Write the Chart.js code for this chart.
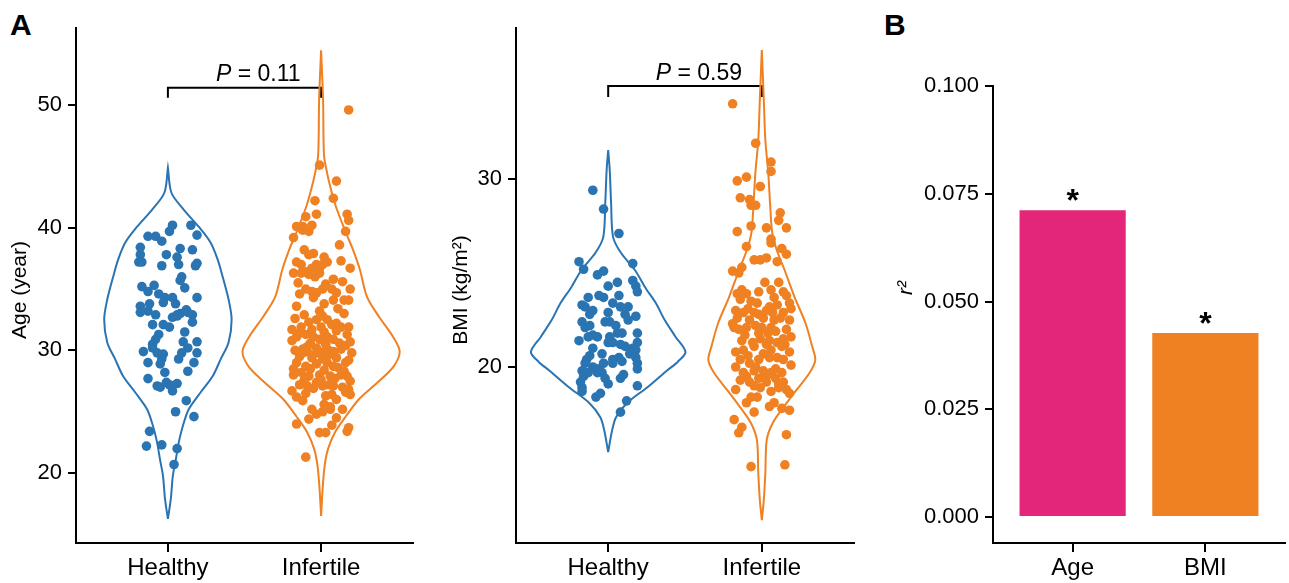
<!DOCTYPE html>
<html>
<head>
<meta charset="utf-8">
<script src="https://cdn.jsdelivr.net/npm/chart.js@4.4.1/dist/chart.umd.min.js"></script>
<style>
  body { margin: 0; width: 1289px; height: 583px; overflow: hidden; position: relative; background: #fff; font-family: "Liberation Sans", Arial, sans-serif; }
  .panel { position: absolute; top: 0; }
  .tag { position: absolute; font-size: 30px; font-weight: bold; line-height: 30px; color: #000; }
</style>
</head>
<body>
<div class="tag" style="left:10px; top:10px">A</div>
<div class="tag" style="left:884px; top:10px">B</div>
<canvas id="ageChart" class="panel" style="left:0" width="440" height="583"></canvas>
<canvas id="bmiChart" class="panel" style="left:440px" width="440" height="583"></canvas>
<canvas id="r2Chart" class="panel" style="left:880px" width="409" height="583"></canvas>
<script>
const groups = ['Healthy', 'Infertile']
const ageTicks = [20, 30, 40, 50]
const bmiTicks = [20, 30]
const r2Ticks = [0, 0.025, 0.05, 0.075, 0.1]
const r2Labels = ['Age', 'BMI']
const r2Values = [0.0712, 0.0427]
const ageP = '0.11'
const bmiP = '0.59'
const ageBracketY = [50.6, 51.4]
const bmiBracketY = [34.36, 34.95]

// jittered points: value + horizontal jitter (category units)
const ageHealthy = [40.2,39.7,40.2,39.4,39.3,39.3,38.9,38.4,37.8,37.2,37.2,37.8,38.3,37.6,38.2,36.9,37.1,36.9,37.0,36.0,
  35.7,35.2,35.3,34.8,35.1,34.6,34.3,34.3,33.9,33.8,34.3,33.6,33.8,33.2,33.1,32.9,33.3,32.9,32.8,33.0,
  33.1,32.1,32.1,31.9,32.7,32.9,32.3,31.5,31.3,30.9,30.7,30.5,30.2,29.9,30.7,30.2,29.8,29.8,29.8,29.7,
  29.3,29.3,29.0,29.0,28.9,28.3,28.2,27.7,27.4,27.1,27.0,27.2,27.3,26.7,25.9,25.0,24.6,23.4,22.2,22.3,22.0,20.7]
const ageHealthyJitter = [0.03,0.01,0.15,0.19,-0.13,-0.08,-0.04,-0.18,-0.18,-0.19,-0.17,-0.01,0.08,0.06,0.16,0.18,0.19,-0.04,0.07,0.09,
  0.08,-0.17,-0.09,-0.13,0.11,-0.06,-0.02,0.03,-0.03,0.05,0.19,-0.18,-0.12,-0.13,-0.18,-0.08,0.12,0.16,0.06,0.08,
  0.13,-0.10,-0.03,0.01,0.03,0.06,0.16,0.11,-0.06,-0.08,0.10,-0.10,-0.10,-0.16,0.19,0.13,0.09,0.19,-0.07,-0.03,
  -0.04,0.07,-0.13,0.17,-0.05,0.13,-0.02,-0.13,-0.01,-0.07,-0.05,0.01,0.06,0.03,0.12,0.05,0.17,-0.12,-0.14,-0.04,0.06,0.04]

const ageInfertile = [49.6,45.1,43.8,42.2,42.4,40.9,41.1,41.1,40.6,40.1,40.1,40.2,39.7,39.2,39.8,39.7,38.2,37.8,37.9,37.2,
  37.0,37.6,37.2,37.3,37.0,36.7,37.0,36.7,36.3,36.3,36.4,36.2,36.3,36.7,35.8,35.4,35.0,35.0,34.8,34.7,
  35.0,34.7,35.0,34.3,34.1,34.1,34.1,33.2,32.8,32.9,32.5,32.5,32.1,31.9,31.9,31.7,31.9,31.7,31.9,31.1,
  31.3,31.1,30.9,31.1,30.9,31.3,30.7,30.1,30.3,30.2,30.5,29.9,30.1,29.8,29.9,29.8,29.9,29.7,29.8,29.0,
  28.7,28.9,29.0,28.7,29.0,28.0,28.2,27.9,28.0,27.9,28.0,27.9,27.2,27.1,27.4,27.1,27.2,27.1,27.0,26.8,
  26.7,26.2,25.9,26.3,26.4,26.6,26.4,25.6,25.4,25.2,24.8,25.0,25.2,25.2,24.0,23.3,23.3,23.9,23.7,23.4,21.3,
  33.6,33.4,33.0,32.6,32.3,32.2,31.5,31.6,31.4,30.8,30.6,30.6,30.4,30.0,30.0,29.5,29.4,29.3,29.4,29.2,
  28.5,28.5,28.4,28.6,28.3,27.6,27.6,27.7,27.5,26.9,26.5,26.0,24.5,24.4,33.8,34.6,35.5,35.6,36.0,38.6]
const ageInfertileJitter = [0.18,-0.01,0.10,-0.04,0.08,-0.10,-0.03,0.17,0.18,-0.16,-0.12,-0.06,0.16,-0.18,-0.12,-0.08,-0.11,-0.08,-0.05,-0.16,
  -0.13,0.02,0.04,0.13,0.01,-0.01,-0.03,-0.06,-0.18,-0.13,-0.10,-0.08,-0.01,0.19,0.08,0.03,0.01,-0.10,-0.06,-0.03,
  0.07,0.10,0.19,-0.05,0.08,0.15,0.18,-0.01,0.01,-0.11,-0.03,0.04,0.07,0.13,0.18,-0.19,-0.13,-0.06,0.00,-0.16,
  -0.10,-0.05,-0.01,0.04,0.08,0.17,0.19,-0.12,-0.09,-0.03,0.03,0.08,0.13,-0.12,-0.09,-0.03,0.02,0.06,0.20,-0.16,
  -0.10,-0.03,0.04,0.08,0.16,-0.18,-0.13,-0.08,-0.01,0.06,0.13,0.17,-0.14,-0.09,-0.03,0.01,0.05,0.08,0.14,0.18,
  -0.19,-0.16,-0.12,0.03,0.07,0.16,0.19,0.02,0.06,-0.06,-0.03,0.01,0.06,0.14,-0.16,-0.01,0.03,0.07,0.18,0.17,-0.10,
  -0.16,0.11,0.15,-0.17,-0.08,0.10,0.02,0.10,-0.14,-0.19,-0.07,0.12,0.16,-0.17,0.05,-0.14,-0.06,0.01,0.10,0.18,
  -0.18,-0.07,0.02,0.11,0.15,-0.11,0.00,0.09,0.19,-0.05,-0.10,0.10,0.10,-0.08,0.02,-0.14,-0.15,0.14,-0.04,0.12]

const bmiHealthy = [29.4,28.4,27.1,25.6,25.2,25.5,24.9,25.1,24.6,24.3,24.0,24.5,24.3,23.7,23.8,23.7,23.8,23.3,23.2,23.4,
  23.2,23.2,23.0,22.8,22.9,22.4,22.4,22.8,22.7,22.5,22.4,22.1,22.2,22.2,21.8,21.8,21.7,21.6,21.6,21.4,
  21.6,21.3,21.3,21.2,21.1,21.0,20.9,21.8,21.3,21.0,20.6,20.4,20.2,20.7,20.2,19.9,20.4,20.5,20.3,20.7,
  20.5,20.2,19.9,19.8,19.5,19.7,20.2,20.0,19.7,19.7,19.4,19.1,19.4,19.6,19.2,18.9,18.7,19.0,18.4,18.6,18.2,17.6]
const bmiHealthyJitter = [-0.10,-0.03,0.07,-0.19,-0.16,0.16,-0.07,-0.03,0.16,0.18,0.19,0.06,0.00,-0.13,-0.06,-0.03,0.07,-0.17,-0.15,0.03,
  0.08,0.13,-0.10,-0.12,0.00,-0.02,0.01,0.11,0.18,0.13,-0.17,-0.15,-0.12,0.05,0.06,0.09,-0.10,-0.07,-0.13,-0.19,
  0.01,0.03,0.00,0.08,0.11,0.16,0.18,0.19,0.19,-0.10,-0.12,-0.14,-0.15,-0.04,-0.03,-0.06,0.03,0.07,0.09,0.14,
  0.18,0.19,0.19,-0.17,-0.16,-0.13,0.03,-0.10,-0.07,-0.04,-0.02,0.00,0.08,0.10,-0.18,-0.17,-0.17,0.19,-0.08,-0.05,0.12,0.08]

const bmiInfertile = [34.0,31.9,30.9,30.4,29.9,30.1,29.6,29.0,28.9,28.6,28.6,28.2,27.8,27.4,27.2,27.5,27.4,26.8,
  26.4,26.6,26.3,26.0,25.6,25.7,25.7,25.8,25.1,25.0,25.3,24.5,24.1,24.5,24.1,23.9,24.0,23.7,23.8,23.4,23.6,23.5,
  23.4,23.3,23.0,23.0,22.9,22.9,22.8,22.5,22.6,22.5,22.1,22.0,22.1,22.2,22.1,22.1,22.0,21.6,21.5,21.4,21.3,21.5,21.4,21.3,
  20.8,20.9,21.1,21.2,20.9,21.1,20.8,20.4,20.2,20.4,20.5,20.5,20.1,20.0,19.7,19.8,19.8,19.7,19.7,
  19.3,19.2,19.4,19.2,19.4,19.2,18.8,18.9,18.9,18.8,18.6,18.4,18.4,18.7,18.1,18.1,17.6,17.9,17.8,17.7,
  17.2,16.8,16.5,16.4,14.7,14.8,
  23.9,24.0,23.1,23.2,22.9,22.6,22.5,22.6,21.9,21.7,21.8,21.8,21.2,20.6,20.7,20.4,20.0,19.9,19.5,19.5,19.1,19.0,22.9,22.3,23.1]
const bmiInfertileJitter = [-0.19,-0.04,0.06,0.06,-0.16,-0.10,-0.01,-0.14,-0.08,-0.07,-0.04,0.12,0.11,0.16,-0.16,-0.07,0.03,0.06,
  -0.10,0.06,0.13,0.16,0.10,-0.05,-0.01,0.03,-0.19,-0.15,-0.13,0.02,0.06,0.11,-0.13,-0.10,-0.02,0.08,0.16,0.18,-0.14,-0.07,
  -0.03,0.10,0.03,-0.17,-0.12,-0.05,-0.02,0.18,0.12,0.08,-0.18,-0.15,-0.10,-0.04,0.00,0.06,0.16,0.19,0.14,-0.13,-0.06,-0.01,0.05,0.10,
  -0.17,-0.12,-0.05,0.03,0.06,0.13,0.18,-0.14,-0.08,-0.02,0.05,0.10,0.19,-0.17,-0.12,-0.05,0.01,0.06,0.13,
  -0.14,-0.08,-0.02,0.03,0.09,0.14,-0.17,-0.01,0.11,0.16,0.18,-0.07,-0.03,0.06,0.08,-0.10,-0.05,0.05,0.13,0.18,
  -0.18,-0.13,-0.15,0.16,-0.07,0.15,
  -0.16,0.14,-0.09,0.05,0.14,-0.16,-0.08,0.01,0.09,-0.11,-0.02,0.04,0.15,-0.09,0.01,0.14,-0.04,0.09,-0.10,0.03,0.11,-0.05,0.07,-0.19,0.19]

// violin outlines: level and half width (category units)
const ageHealthyLevels = [16.26,17.89,19.76,21.14,22.52,23.82,25.20,26.59,27.89,29.27,30.65,32.52,34.15,36.02,37.40,38.78,40.08,41.46,42.85,44.9]
const ageHealthyWidth = [0,0.019,0.032,0.052,0.071,0.097,0.136,0.214,0.292,0.344,0.396,0.416,0.396,0.357,0.325,0.279,0.201,0.104,0.023,0]
const ageInfertileLevels = [16.50,18.70,20.57,21.95,23.33,24.63,26.02,27.40,28.70,29.92,31.14,32.76,34.39,36.59,38.21,39.59,41.71,43.09,44.47,45.93,50.41,54.47]
const ageInfertileWidth = [0,0.010,0.023,0.045,0.091,0.162,0.247,0.370,0.474,0.513,0.468,0.377,0.299,0.253,0.208,0.162,0.097,0.065,0.039,0.019,0.013,0]
const bmiHealthyLevels = [15.48,16.65,17.34,18.09,18.94,19.84,20.27,20.80,21.60,22.50,23.40,24.26,25.16,26.06,26.91,28.72,30.48,31.54]
const bmiHealthyWidth = [0,0.026,0.052,0.123,0.258,0.387,0.452,0.503,0.439,0.368,0.310,0.239,0.174,0.084,0.032,0.019,0.010,0]
const bmiInfertileLevels = [11.86,12.93,14.36,16.12,17.02,17.87,18.78,19.68,20.37,21.06,22.34,23.72,25.16,26.22,27.13,28.51,30.32,32.07,34.20,36.86]
const bmiInfertileWidth = [0,0.013,0.023,0.032,0.071,0.142,0.226,0.310,0.348,0.329,0.284,0.213,0.148,0.097,0.068,0.055,0.042,0.023,0.013,0]

const blue = '#2a74b2'
const orange = '#f08123'
const pink = '#e4267a'
const FONT = '"Liberation Sans", Arial, sans-serif'
Chart.defaults.font.family = FONT
Chart.defaults.color = '#000'

const violinOutline = (levels, widths, center) => {
    const right = levels.map((y, i) => ({x: center + widths[i], y: y}))
    const left = levels.map((y, i) => ({x: center - widths[i], y: y})).reverse()
    return right.concat(left)
}

const jitterPoints = (values, jitter, center) => values.map((v, i) => ({x: center + (jitter[i] || 0), y: v}))

const fixedTicks = list => scale => { scale.ticks = list.map(v => ({value: v})) }

const axisX = labels => ({
    type: 'linear', min: 0.4, max: 2.6, offset: false,
    afterBuildTicks: fixedTicks([1, 2]),
    ticks: {callback: (v, i) => labels[i], color: '#000', font: {size: 24}, padding: 2, autoSkip: false, maxRotation: 0},
    grid: {drawOnChartArea: false, tickLength: 9, color: '#000', lineWidth: 2, offset: false},
    border: {display: true, color: '#000', width: 2},
    afterFit: s => { s.height = 40; s.paddingLeft = 0; s.paddingRight = 0 }
})

const axisY = (min, max, list, width, fmt) => ({
    type: 'linear', min: min, max: max,
    afterBuildTicks: fixedTicks(list),
    ticks: {callback: fmt || (v => v), color: '#000', font: {size: 22}, padding: 6},
    grid: {drawOnChartArea: false, tickLength: 8, color: '#000', lineWidth: 2},
    border: {display: true, color: '#000', width: 2},
    afterFit: s => { s.width = width; s.paddingTop = 0; s.paddingBottom = 0 }
})

// y titles, p-value labels, significance stars
const figureText = {
    id: 'figureText',
    afterDraw(chart, args, opts) {
        const ctx = chart.ctx
        const xs = chart.scales.x, ys = chart.scales.y
        ctx.save()
        ctx.fillStyle = '#000'
        if (opts.title) {
            ctx.save()
            ctx.translate(opts.title.x, opts.title.y)
            ctx.rotate(-Math.PI / 2)
            ctx.font = (opts.title.italic ? 'italic ' : '') + '21px ' + FONT
            ctx.textAlign = 'center'
            ctx.textBaseline = 'middle'
            ctx.fillText(opts.title.text, 0, 0)
            ctx.restore()
        }
        if (opts.pValue) {
            const italic = 'italic 23px ' + FONT, normal = '23px ' + FONT
            const rest = ' = ' + opts.pValue.text
            ctx.font = italic
            const w1 = ctx.measureText('P').width
            ctx.font = normal
            const w2 = ctx.measureText(rest).width
            const cx = xs.getPixelForValue(opts.pValue.x)
            const cy = ys.getPixelForValue(opts.pValue.y)
            const x0 = cx - (w1 + w2) / 2
            ctx.textBaseline = 'middle'
            ctx.textAlign = 'left'
            ctx.font = italic
            ctx.fillText('P', x0, cy)
            ctx.font = normal
            ctx.fillText(rest, x0 + w1, cy)
        }
        if (opts.stars) {
            ctx.font = 'bold 32px ' + FONT
            ctx.textAlign = 'center'
            ctx.textBaseline = 'alphabetic'
            chart.getDatasetMeta(0).data.forEach(bar => {
                ctx.fillText('*', bar.x, bar.y + 1)
            })
        }
        ctx.restore()
    }
}

const baseOptions = (padding, scales, text) => ({
    responsive: false,
    animation: false,
    events: [],
    layout: {padding: padding},
    scales: scales,
    plugins: {legend: {display: false}, tooltip: {enabled: false}, figureText: text}
})

const violinChart = (id, cfg) => new Chart(document.getElementById(id), {
    type: 'scatter',
    data: {
        datasets: [
            {data: jitterPoints(cfg.healthy, cfg.healthyJitter, 1), backgroundColor: blue, borderWidth: 0, pointRadius: 4.8},
            {data: jitterPoints(cfg.infertile, cfg.infertileJitter, 2), backgroundColor: orange, borderWidth: 0, pointRadius: 4.8},
            {data: violinOutline(cfg.hLevels, cfg.hWidth, 1), showLine: true, borderColor: blue, borderWidth: 2, pointRadius: 0, tension: 0.3, fill: false},
            {data: violinOutline(cfg.iLevels, cfg.iWidth, 2), showLine: true, borderColor: orange, borderWidth: 2, pointRadius: 0, tension: 0.3, fill: false},
            {data: [{x: 1, y: cfg.bracket[0]}, {x: 1, y: cfg.bracket[1]}, {x: 2, y: cfg.bracket[1]}, {x: 2, y: cfg.bracket[0]}],
             showLine: true, borderColor: '#000', borderWidth: 2, pointRadius: 0, tension: 0}
        ]
    },
    options: baseOptions({left: 0, right: cfg.padRight, top: 28, bottom: 0}, {
        x: axisX(groups),
        y: axisY(cfg.min, cfg.max, cfg.ticks, 76)
    }, {
        title: {text: cfg.title, x: cfg.titleX, y: 290},
        pValue: {text: cfg.p, x: 1.59, y: cfg.pY}
    }),
    plugins: [figureText]
})

violinChart('ageChart', {
    healthy: ageHealthy, healthyJitter: ageHealthyJitter,
    infertile: ageInfertile, infertileJitter: ageInfertileJitter,
    hLevels: ageHealthyLevels, hWidth: ageHealthyWidth,
    iLevels: ageInfertileLevels, iWidth: ageInfertileWidth,
    bracket: ageBracketY, min: 14.3, max: 56.28, ticks: ageTicks,
    title: 'Age (year)', titleX: 20, p: ageP, pY: 52.5, padRight: 27
})

violinChart('bmiChart', {
    healthy: bmiHealthy, healthyJitter: bmiHealthyJitter,
    infertile: bmiInfertile, infertileJitter: bmiInfertileJitter,
    hLevels: bmiHealthyLevels, hWidth: bmiHealthyWidth,
    iLevels: bmiInfertileLevels, iWidth: bmiInfertileWidth,
    bracket: bmiBracketY, min: 10.64, max: 38.03, ticks: bmiTicks,
    title: 'BMI (kg/m²)', titleX: 21, p: bmiP, pY: 35.6, padRight: 26
})

new Chart(document.getElementById('r2Chart'), {
    type: 'bar',
    data: {
        datasets: [{
            data: r2Values.map((v, i) => ({x: i + 1, y: v})),
            backgroundColor: [pink, orange],
            categoryPercentage: 1,
            barPercentage: 0.8
        }]
    },
    options: baseOptions({left: 0, right: 4, top: 86, bottom: 0}, {
        x: axisX(r2Labels),
        y: axisY(-0.00603, 0.1, r2Ticks, 113, v => v.toFixed(3))
    }, {
        title: {text: 'r²', x: 26, y: 288, italic: true},
        stars: true
    }),
    plugins: [figureText]
})
</script>
</body>
</html>
